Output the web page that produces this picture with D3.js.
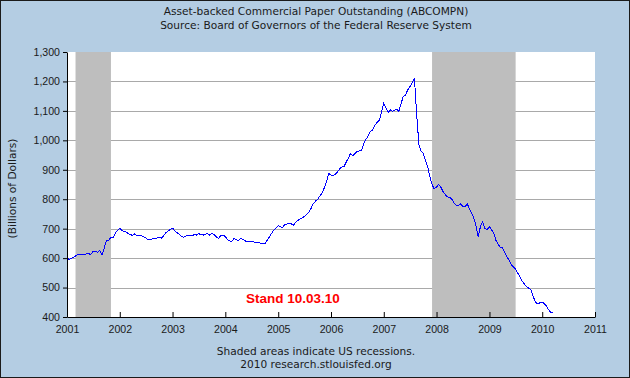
<!DOCTYPE html>
<html>
<head>
<meta charset="utf-8">
<script src="https://cdn.jsdelivr.net/npm/d3@7"></script>
<style>
  body { margin: 0; }
  svg { display: block; font-family: "DejaVu Sans", Verdana, sans-serif; }
</style>
</head>
<body>
<div id="chart"></div>
<script>

const values2001 = [602, 596, 599, 603, 607, 612, 613, 614, 613, 614, 615, 612, 624, 624, 620, 625, 612, 633, 660, 660, 670, 670, 684, 694];
const values2002 = [702, 695, 690, 688, 683, 680, 677, 683, 675, 676, 676, 672, 668, 663, 664, 665, 666, 668, 670, 668, 676, 686, 692, 697];
const values2003 = [702, 694, 686, 682, 675, 671, 674, 677, 678, 675, 680, 678, 683, 680, 678, 681, 683, 678, 685, 680, 672, 667, 676, 677];
const values2004 = [674, 662, 658, 656, 667, 662, 660, 666, 664, 659, 656, 658, 656, 655, 654, 652, 651, 650, 648, 660, 672, 683, 695, 702];
const values2005 = [710, 706, 705, 713, 716, 717, 717, 711, 722, 727, 733, 736, 742, 748, 755, 768, 785, 793, 800, 810, 822, 838, 858, 888];
const values2006 = [882, 879, 886, 893, 902, 909, 911, 925, 940, 954, 948, 955, 962, 964, 967, 988, 1004, 1015, 1030, 1035, 1052, 1060, 1068, 1092];
const values2007 = [1126, 1110, 1094, 1104, 1098, 1102, 1106, 1098, 1125, 1148, 1154, 1171, 1182, 1194, 1212, 1100, 985, 965, 956, 935, 910, 878, 850, 836];
const values2008 = [841, 850, 840, 826, 816, 808, 806, 800, 788, 780, 779, 784, 775, 774, 784, 768, 752, 735, 708, 673, 710, 722, 700, 697];
const values2009 = [706, 697, 682, 660, 648, 637, 636, 620, 606, 594, 578, 571, 562, 550, 536, 522, 511, 503, 497, 492, 468, 450, 444, 448];
const values2010 = [450, 446, 436, 424, 415, 414];

const years = [2001, 2002, 2003, 2004, 2005, 2006, 2007, 2008, 2009, 2010];
const yearValues = [values2001, values2002, values2003, values2004, values2005,
                    values2006, values2007, values2008, values2009, values2010];

// NBER recessions (shading runs to the end of the last month)
const recessions = [
    {start: "2001-03-01", end: "2001-11-01"},
    {start: "2007-12-01", end: "2009-07-01"}
];

const yTicks = [400, 500, 600, 700, 800, 900, 1000, 1100, 1200, 1300];
const xTicks = [2001, 2002, 2003, 2004, 2005, 2006, 2007, 2008, 2009, 2010, 2011];

const titleLines = ["Asset-backed Commercial Paper Outstanding (ABCOMPN)",
                    "Source: Board of Governors of the Federal Reserve System"];
const footLines = ["Shaded areas indicate US recessions.", "2010 research.stlouisfed.org"];
const yLabel = "(Billions of Dollars)";
const note = "Stand 10.03.10";

// build dated series
let series = [];
years.forEach((yr, k) => {
    yearValues[k].forEach((v, i) => {
        series.push({date: new Date(yr, Math.floor(i / 2), i % 2 ? 15 : 1), value: v});
    });
});

const W = 630, H = 378;
const margin = {top: 52, right: 35, bottom: 61, left: 67};
const width = W - margin.left - margin.right;
const height = H - margin.top - margin.bottom;

const svg = d3.select("#chart").append("svg")
    .attr("width", W)
    .attr("height", H);

// background + frame
svg.append("rect")
    .attr("x", 0.5).attr("y", 0.5)
    .attr("width", W - 1).attr("height", H - 1)
    .attr("fill", "#b4cde3")
    .attr("stroke", "#1a1a1a");

// titles
svg.selectAll(".title")
    .data(titleLines)
    .enter().append("text")
    .attr("class", "title")
    .attr("x", 316)
    .attr("y", (d, i) => 15 + i * 13.5)
    .attr("text-anchor", "middle")
    .attr("font-size", "10.6px")
    .attr("fill", "#1a1a1a")
    .text(d => d);

svg.selectAll(".foot")
    .data(footLines)
    .enter().append("text")
    .attr("class", "foot")
    .attr("x", 316)
    .attr("y", (d, i) => 355 + i * 13)
    .attr("text-anchor", "middle")
    .attr("font-size", "10.6px")
    .attr("fill", "#1a1a1a")
    .text(d => d);

svg.append("text")
    .attr("transform", `translate(16, ${margin.top + height / 2 + 4}) rotate(-90)`)
    .attr("text-anchor", "middle")
    .attr("font-size", "10.6px")
    .attr("fill", "#1a1a1a")
    .text(yLabel);

const g = svg.append("g")
    .attr("transform", `translate(${margin.left}, ${margin.top})`);

// scales
const x = d3.scaleTime()
    .domain([new Date(2001, 0, 1), new Date(2011, 0, 1)])
    .range([0, width]);

const y = d3.scaleLinear()
    .domain([400, 1300])
    .range([height, 0]);

// plot area
g.append("rect")
    .attr("width", width)
    .attr("height", height)
    .attr("fill", "white");

// grid lines
g.selectAll(".grid")
    .data(yTicks.filter(d => d > 400 && d < 1300))
    .enter().append("line")
    .attr("class", "grid")
    .attr("x1", 0).attr("x2", width)
    .attr("y1", d => Math.round(y(d)) + 0.5)
    .attr("y2", d => Math.round(y(d)) + 0.5)
    .attr("stroke", "#a9a9a9");

// recession shading
g.selectAll(".recession")
    .data(recessions)
    .enter().append("rect")
    .attr("class", "recession")
    .attr("x", d => x(new Date(d.start)))
    .attr("width", d => x(new Date(d.end)) - x(new Date(d.start)))
    .attr("y", 0)
    .attr("height", height)
    .attr("fill", "#bebebe");

// the series
const line = d3.line()
    .x(d => x(d.date))
    .y(d => y(d.value));

g.append("path")
    .datum(series)
    .attr("fill", "none")
    .attr("stroke", "#0000ff")
    .attr("stroke-width", 1)
    .attr("shape-rendering", "crispEdges")
    .attr("d", line);

// axes
const xAxis = d3.axisBottom(x)
    .tickValues(xTicks.map(d => new Date(d, 0, 1)))
    .tickFormat(d3.timeFormat("%Y"))
    .tickSizeInner(-5)
    .tickSizeOuter(0)
    .tickPadding(8);

g.append("g")
    .attr("transform", `translate(0, ${height})`)
    .call(xAxis)
    .call(a => a.selectAll("text").attr("font-size", "10.6px").attr("fill", "#1a1a1a").attr("font-family", null))
    .call(a => a.selectAll("line, path").attr("stroke", "#000"));

const yAxis = d3.axisLeft(y)
    .tickValues(yTicks)
    .tickFormat(d3.format(","))
    .tickSizeInner(4)
    .tickSizeOuter(0)
    .tickPadding(3);

g.append("g")
    .call(yAxis)
    .call(a => a.selectAll("text").attr("font-size", "10.6px").attr("fill", "#1a1a1a").attr("font-family", null))
    .call(a => a.selectAll("line, path").attr("stroke", "#000"));

// date note
svg.append("text")
    .attr("x", 246)
    .attr("y", 303)
    .attr("font-family", "'Liberation Sans', Arial, sans-serif")
    .attr("font-weight", "bold")
    .attr("font-size", "13.5px")
    .attr("fill", "#ff0000")
    .text(note);

</script>
</body>
</html>
